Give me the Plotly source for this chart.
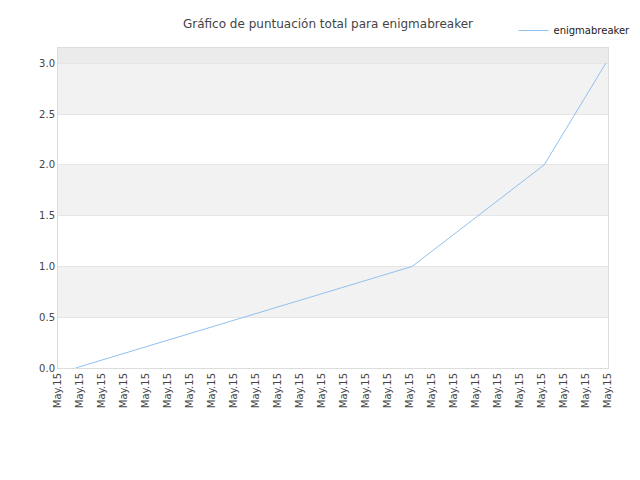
import plotly.graph_objects as go

tick_labels = ["May.15"] * 26
x_vals = [0.8, 16.1, 22.1, 24.9]
y_vals = [0, 1, 2, 3]

fig = go.Figure()
fig.add_trace(go.Scatter(x=x_vals, y=y_vals, mode="lines", name="enigmabreaker",
                         line=dict(color="#90c0f0", width=1)))
shapes = []
for y0, y1, c in [(0.5, 1.0, "#f2f2f2"), (1.5, 2.0, "#f2f2f2"), (2.5, 3.0, "#f2f2f2"), (3.0, 3.15, "#ebebeb")]:
    shapes.append(dict(type="rect", xref="paper", yref="y", x0=0, x1=1, y0=y0, y1=y1,
                       fillcolor=c, line=dict(width=0), layer="below"))
fig.update_layout(
    width=640, height=480, paper_bgcolor="white", plot_bgcolor="white",
    margin=dict(l=50, r=40, t=40, b=120, autoexpand=False),
    title=dict(text="Gráfico de puntuación total para enigmabreaker", x=0.5, y=0.975,
               xanchor="center", font=dict(family="DejaVu Sans", size=12, color="#444")),
    font=dict(family="DejaVu Sans", size=10, color="#444"),
    shapes=shapes,
    showlegend=True,
    legend=dict(x=1.05, y=1.1, xanchor="right", yanchor="top", bgcolor="rgba(0,0,0,0)",
                font=dict(size=10, color="#222")),
    xaxis=dict(range=[0, 25], tickmode="array", tickvals=list(range(26)), ticktext=tick_labels,
               tickangle=-90, showgrid=False, zeroline=False, showline=True, linecolor="#ddd",
               mirror=True, automargin=False),
    yaxis=dict(range=[0, 3.15], tickvals=[0, 0.5, 1, 1.5, 2, 2.5, 3],
               ticktext=["0.0", "0.5", "1.0", "1.5", "2.0", "2.5", "3.0"],
               showgrid=True, gridcolor="#e6e6e6", zeroline=False, showline=True,
               linecolor="#ddd", mirror=True, ticks="", automargin=False),
)
fig.write_html("out.html")
